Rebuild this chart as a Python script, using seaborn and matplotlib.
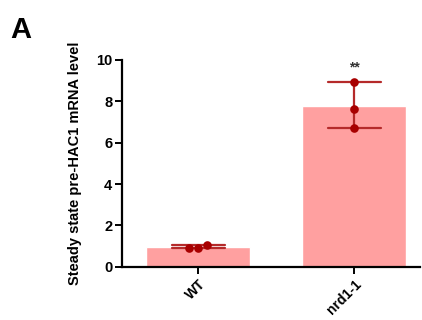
import matplotlib
matplotlib.use("Agg")
import matplotlib.pyplot as plt
import seaborn as sns
import pandas as pd

categories = ["WT", "nrd1-1"]
wt_values = [1.06, 0.93, 0.93]
nrd_values = [8.94, 7.62, 6.73]
significance = ["", "**"]
y_ticks = [0, 2, 4, 6, 8, 10]

df = pd.DataFrame({
    "genotype": [categories[0]] * len(wt_values) + [categories[1]] * len(nrd_values),
    "level": wt_values + nrd_values,
})

sns.set_style("ticks")
plt.rcParams["font.family"] = ["Liberation Sans", "DejaVu Sans"]
plt.rcParams["text.color"] = "black"
plt.rcParams["axes.labelcolor"] = "black"
plt.rcParams["xtick.color"] = "black"
plt.rcParams["ytick.color"] = "black"

fig = plt.figure(figsize=(4.22, 3.2), dpi=100)
ax = fig.add_axes([0.289, 0.166, 0.706, 0.647])

sns.barplot(data=df, x="genotype", y="level", order=categories, ax=ax,
            color="#FFA0A0", saturation=1, width=0.667,
            errorbar=("pi", 100), capsize=0.34,
            err_kws={"color": "#B52A2A", "linewidth": 1.6})
sns.swarmplot(data=df, x="genotype", y="level", order=categories, ax=ax,
              color="#A80000", size=6.2, zorder=5)

for i, s in enumerate(significance):
    if s:
        top = max(df[df.genotype == categories[i]]["level"])
        ax.text(i, top + 0.35, s, ha="center", va="bottom", fontsize=10,
                color="#333333", fontweight="bold")

ax.set_ylim(0, 10)
ax.set_xlim(-0.49, 1.42)
ax.set_yticks(y_ticks)
ax.set_yticklabels([str(t) for t in y_ticks], fontsize=10.5, fontweight="bold")
ax.set_xticks(range(len(categories)))
ax.set_xticklabels(categories, rotation=45, ha="right", rotation_mode="anchor",
                   fontsize=10, fontweight="bold")
ax.set_xlabel("")
ax.set_ylabel("Steady state pre-HAC1 mRNA level", fontsize=10.5, fontweight="bold",
              labelpad=10)
for side in ["left", "bottom"]:
    ax.spines[side].set_linewidth(1.6)
    ax.spines[side].set_color("black")
ax.spines["top"].set_visible(False)
ax.spines["right"].set_visible(False)
ax.tick_params(axis="both", width=1.4, length=5, color="black", labelcolor="black", pad=2)

fig.text(0.025, 0.95, "A", fontsize=21, fontweight="bold", va="top", ha="left",
         color="black")

fig.savefig("out.png", dpi=100)
